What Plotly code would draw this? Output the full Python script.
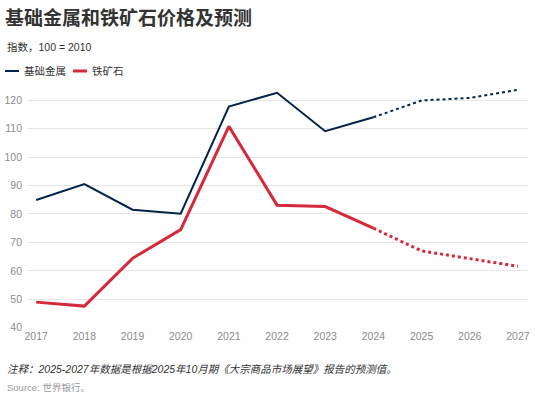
import plotly.graph_objects as go

# 数据：指数，100 = 2010
years = [2017, 2018, 2019, 2020, 2021, 2022, 2023, 2024, 2025, 2026, 2027]
base_metals = [84.9, 90.5, 81.5, 80.1, 117.8, 122.6, 109.1, 114.0, 119.9, 120.8, 123.7]
iron_ore = [49.0, 47.6, 64.4, 74.5, 110.8, 83.1, 82.6, 75.0, 67.0, 64.3, 61.6]
forecast_start = 2024  # 2025-2027 为预测值

tick_years = years
y_ticks = [40, 50, 60, 70, 80, 90, 100, 110, 120]

NAVY = "#022448"
RED = "#d42a3c"
FONT = "Liberation Sans, Helvetica, Arial, Noto Sans CJK SC, sans-serif"
FS = 10.5

W, H = 535, 400
m_l, m_r, m_t, m_b = 28, 7, 86, 72
plot_w = W - m_l - m_r
plot_h = H - m_t - m_b


def py(px):
    # 像素位置（自顶向下）转为 paper 坐标
    return (H - m_b - px) / plot_h


def px_x(px):
    return (px - m_l) / plot_w


fig = go.Figure()

i = years.index(forecast_start)
series = [
    ("基础金属", base_metals, NAVY, 2),
    ("铁矿石", iron_ore, RED, 3),
]
for name, vals, color, width in series:
    fig.add_trace(go.Scatter(
        x=years[:i + 1], y=vals[:i + 1], mode="lines", name=name,
        line=dict(color=color, width=width), showlegend=False,
    ))
    fig.add_trace(go.Scatter(
        x=years[i:], y=vals[i:], mode="lines", name=name,
        line=dict(color=color, width=width, dash="dot"), showlegend=False,
    ))

# 图例（手动绘制，短线样式）
legend_x = [5, 73]
for (name, vals, color, width), lx in zip(series, legend_x):
    fig.add_shape(
        type="line", xref="paper", yref="paper",
        x0=px_x(lx), x1=px_x(lx + 14), y0=py(71), y1=py(71),
        line=dict(color=color, width=width),
    )
    fig.add_annotation(
        text=name, xref="paper", yref="paper", x=px_x(lx + 17), y=py(71),
        xanchor="left", yanchor="middle", showarrow=False,
        font=dict(size=FS, color="#333333"),
    )

fig.update_layout(
    width=W, height=H,
    margin=dict(l=m_l, r=m_r, t=m_t, b=m_b, autoexpand=False),
    paper_bgcolor="white", plot_bgcolor="white",
    font=dict(family=FONT, size=FS, color="#333333"),
    showlegend=False,
    xaxis=dict(
        range=[2016.83, 2027.21], tickmode="array", tickvals=tick_years,
        showgrid=False, zeroline=False, showline=False, ticks="",
        tickfont=dict(size=FS, color="#8c8c8c"), automargin=False,
    ),
    yaxis=dict(
        range=[39.9, 125], tickmode="array", tickvals=y_ticks,
        showgrid=True, gridcolor="#e6e6e6", gridwidth=1,
        zeroline=False, showline=False, ticks="",
        tickfont=dict(size=FS, color="#8c8c8c"), ticklabelstandoff=5,
        automargin=False,
    ),
    title=dict(
        text="<b>基础金属和铁矿石价格及预测</b>",
        x=5 / W, xanchor="left", xref="container",
        y=1 - 18 / H, yanchor="middle", yref="container",
        font=dict(size=19, color="#333333", family=FONT),
    ),
)

notes = [
    ("指数，100 = 2010", 47, FS, "#333333"),
    ("<i>注释：2025-2027年数据是根据2025年10月期《大宗商品市场展望》报告的预测值。</i>", 369, FS, "#333333"),
    ("Source: 世界银行。", 387, 9.5, "#999999"),
]
for text, ypix, size, color in notes:
    fig.add_annotation(
        text=text, xref="paper", yref="paper", x=px_x(5), y=py(ypix),
        xanchor="left", yanchor="middle", showarrow=False,
        font=dict(size=size, color=color),
    )

# 页面默认 8px 边距会让图整体偏移，这里去掉
fig.write_html(
    "out.html",
    config={"displayModeBar": False},
    post_script="document.body.style.margin='0';",
)
